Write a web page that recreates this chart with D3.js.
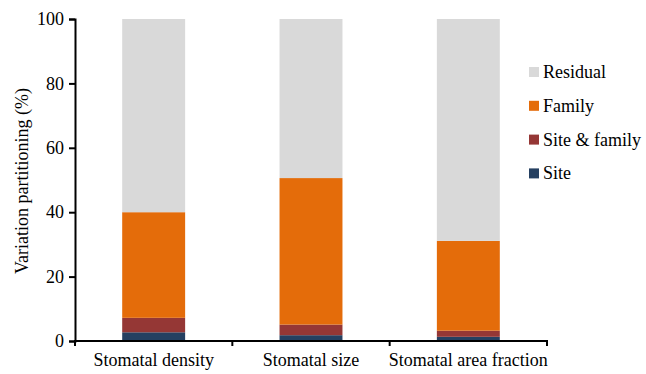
<!DOCTYPE html>
<html><head><meta charset="utf-8">
<script src="https://cdn.jsdelivr.net/npm/d3@7"></script>
</head><body style="margin:0"><svg id="c" width="646" height="374" style="font-family:'Liberation Serif'"></svg>
<script>
const categories = ["Stomatal density", "Stomatal size", "Stomatal area fraction"];
const seriesNames = ["Site", "Site & family", "Family", "Residual"];
const site = [2.7, 1.8, 1.3];
const siteFamily = [4.5, 3.3, 1.9];
const family = [32.8, 45.5, 27.9];
const residual = [60.0, 49.4, 68.9];
const yTicks = [0, 20, 40, 60, 80, 100];
const colors = ["#254061", "#953735", "#e46c0a", "#d9d9d9"];
const FS = 18;

const rows = categories.map((c, i) => ({cat: c, "Site": site[i], "Site & family": siteFamily[i], "Family": family[i], "Residual": residual[i]}));
const stack = d3.stack().keys(seriesNames)(rows);

const svg = d3.select("#c");
const x = d3.scaleBand().domain(categories).range([75, 547]).paddingInner(0.6).paddingOuter(0.3);
const y = d3.scaleLinear().domain([0, 100]).range([341, 19]);

svg.append("g").selectAll("g").data(stack).join("g")
  .attr("fill", (d, i) => colors[i])
  .selectAll("rect").data(d => d).join("rect")
  .attr("x", d => x(d.data.cat))
  .attr("width", x.bandwidth())
  .attr("y", d => y(d[1]))
  .attr("height", d => y(d[0]) - y(d[1]));

// y axis
const ya = svg.append("g").attr("transform", "translate(75,0)")
  .call(d3.axisLeft(y).tickValues(yTicks).tickSize(6).tickPadding(5));
ya.attr("font-family", null).attr("font-size", FS);
ya.select(".domain").attr("stroke-width", 2);
ya.selectAll(".tick line").attr("stroke-width", 2);
ya.selectAll("text").attr("fill", "#000");

// x axis with ticks at band boundaries
const xa = svg.append("g").attr("transform", "translate(0,341)");
xa.append("line").attr("x1", 74).attr("x2", 548).attr("stroke", "#000").attr("stroke-width", 2);
const step = x.step();
const bounds = [75].concat(categories.map(c => x(c) + x.bandwidth() / 2 + step / 2));
xa.selectAll("line.t").data(bounds).join("line").attr("class", "t")
  .attr("x1", d => d).attr("x2", d => d).attr("y1", 0).attr("y2", 5)
  .attr("stroke", "#000").attr("stroke-width", 2);
xa.selectAll("text").data(categories).join("text")
  .attr("x", d => x(d) + x.bandwidth() / 2).attr("y", 25)
  .attr("text-anchor", "middle").attr("font-size", FS).attr("fill", "#000")
  .text(d => d);

svg.append("text").attr("transform", "translate(28,181) rotate(-90)")
  .attr("text-anchor", "middle").attr("font-size", FS).attr("fill", "#000")
  .text("Variation partitioning (%)");

// legend
const legendOrder = seriesNames.slice().reverse();
const lg = svg.append("g").selectAll("g").data(legendOrder).join("g")
  .attr("transform", (d, i) => `translate(529,${72 + i * 33.8})`);
lg.append("rect").attr("x", 0).attr("y", -5).attr("width", 10).attr("height", 10)
  .attr("fill", d => colors[seriesNames.indexOf(d)]);
lg.append("text").attr("x", 14).attr("y", 6).attr("font-size", FS).attr("fill", "#000").text(d => d);
</script></body></html>
